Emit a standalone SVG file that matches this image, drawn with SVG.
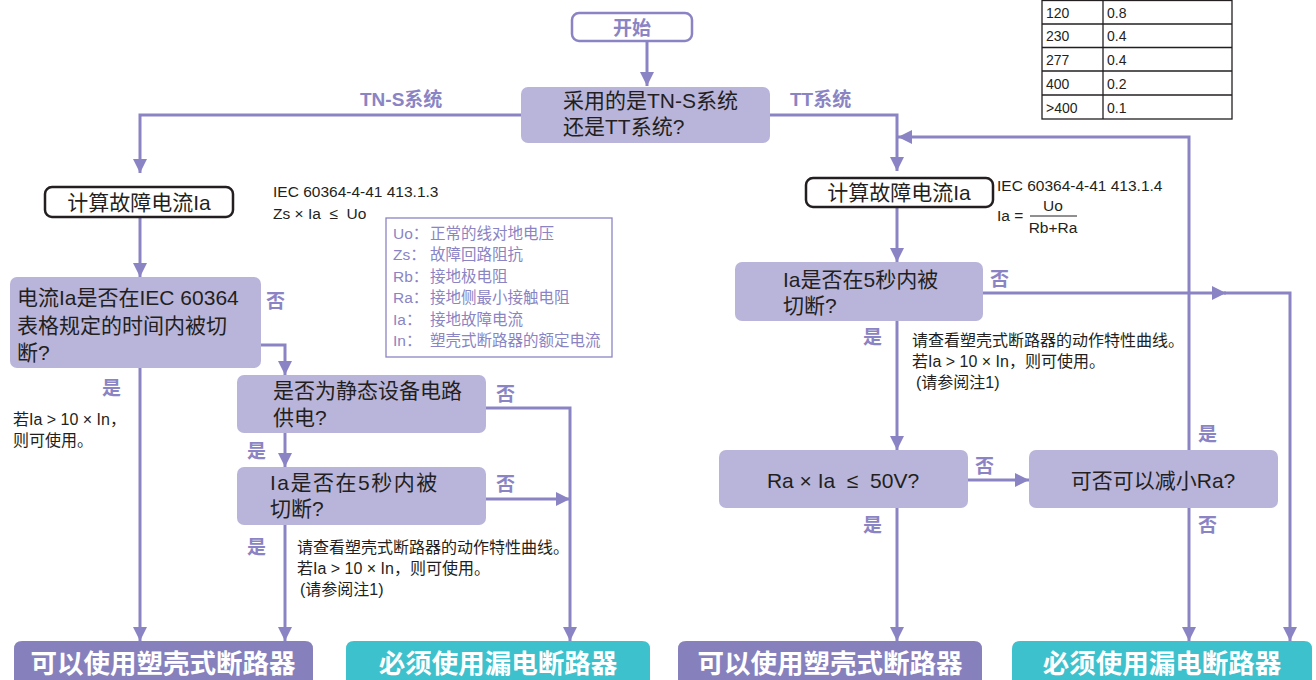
<svg xmlns="http://www.w3.org/2000/svg" width="1316" height="680" viewBox="0 0 1316 680">
<defs>
<marker id="ah" markerUnits="userSpaceOnUse" markerWidth="16" markerHeight="16" viewBox="0 0 16 16" refX="14" refY="8" orient="auto">
<path d="M0,1 L14,8 L0,15 Z" fill="#8a84c4"/>
</marker>
<style>
.ln{fill:none;stroke:#8a84c4;stroke-width:3}
.dec{fill:#b9b5da}
.dt{font-family:"Liberation Sans","Noto Sans CJK SC",sans-serif;font-size:21px;fill:#231f20}
.lb{font-family:"Liberation Sans","Noto Sans CJK SC",sans-serif;font-size:19px;font-weight:bold;fill:#8a84c4}
.sm{font-family:"Liberation Sans","Noto Sans CJK SC",sans-serif;font-size:15.5px;fill:#231f20}
.nt{font-family:"Liberation Sans","Noto Sans CJK SC",sans-serif;font-size:16px;fill:#231f20}
.lg{font-family:"Liberation Sans","Noto Sans CJK SC",sans-serif;font-size:15.5px;fill:#8a84c4}
.calc{fill:#fff;stroke:#231f20;stroke-width:2.5}
.ot{font-family:"Liberation Sans","Noto Sans CJK SC",sans-serif;font-size:26.5px;font-weight:bold;fill:#fff;text-anchor:middle}
.tb{font-family:"Liberation Sans",sans-serif;font-size:14px;fill:#231f20}
</style>
</defs>
<rect width="1316" height="680" fill="#fff"/>

<g id="connectors">
<path class="ln" d="M647 41 V86" marker-end="url(#ah)"/>
<path class="ln" d="M521 115 H140 V173" marker-end="url(#ah)"/>
<path class="ln" d="M770 115 H897 V171" marker-end="url(#ah)"/>
<path class="ln" d="M140 217 V277" marker-end="url(#ah)"/>
<path class="ln" d="M261 345 H285 V375" marker-end="url(#ah)"/>
<path class="ln" d="M140 368 V641" marker-end="url(#ah)"/>
<path class="ln" d="M486 408 H570 V641" marker-end="url(#ah)"/>
<path class="ln" d="M285 433 V467" marker-end="url(#ah)"/>
<path class="ln" d="M486 499 H570" marker-end="url(#ah)"/>
<path class="ln" d="M285 525 V641" marker-end="url(#ah)"/>
<path class="ln" d="M897 207 V262" marker-end="url(#ah)"/>
<path class="ln" d="M983 293 H1226" marker-end="url(#ah)"/>
<path class="ln" d="M1224 293 H1290 V641" marker-end="url(#ah)"/>
<path class="ln" d="M897 321 V450" marker-end="url(#ah)"/>
<path class="ln" d="M968 480 H1029" marker-end="url(#ah)"/>
<path class="ln" d="M897 508 V641" marker-end="url(#ah)"/>
<path class="ln" d="M1189 450 V137 H898" marker-end="url(#ah)"/>
<path class="ln" d="M1189 508 V641" marker-end="url(#ah)"/>
</g>

<g id="labels">
<text class="lb" x="360" y="106">TN-S系统</text>
<text class="lb" x="790" y="106">TT系统</text>
<text class="lb" x="266" y="308">否</text>
<text class="lb" x="102" y="395">是</text>
<text class="lb" x="496" y="401">否</text>
<text class="lb" x="247" y="458">是</text>
<text class="lb" x="496" y="491">否</text>
<text class="lb" x="247" y="554">是</text>
<text class="lb" x="990" y="286">否</text>
<text class="lb" x="863" y="344">是</text>
<text class="lb" x="975" y="473">否</text>
<text class="lb" x="1198" y="441">是</text>
<text class="lb" x="863" y="532">是</text>
<text class="lb" x="1198" y="532">否</text>
</g>

<g id="start">
<rect x="572" y="13" width="120" height="28" rx="7" fill="#fff" stroke="#8a84c4" stroke-width="2.5"/>
<text class="lb" x="632" y="35" text-anchor="middle" font-size="20">开始</text>
</g>

<g id="system">
<rect class="dec" x="521" y="87" width="249" height="56" rx="7"/>
<text class="dt" x="563" y="108" font-size="21.5">采用的是TN-S系统</text>
<text class="dt" x="563" y="134" font-size="21.5">还是TT系统?</text>
</g>

<g id="calc-left">
<rect class="calc" x="45" y="187" width="188" height="30" rx="7"/>
<text class="dt" x="139" y="210" text-anchor="middle">计算故障电流Ia</text>
</g>

<g id="formula-left">
<text class="sm" x="273" y="197">IEC 60364-4-41 413.1.3</text>
<text class="sm" x="273" y="219" xml:space="preserve">Zs × Ia  ≤  Uo</text>
</g>

<g id="legend">
<rect x="386" y="218" width="226" height="139" fill="none" stroke="#8a84c4" stroke-width="1.3"/>
<text class="lg" x="393" y="239">Uo：</text><text class="lg" x="430" y="239">正常的线对地电压</text>
<text class="lg" x="393" y="260">Zs：</text><text class="lg" x="430" y="260">故障回路阻抗</text>
<text class="lg" x="393" y="282">Rb：</text><text class="lg" x="430" y="282">接地极电阻</text>
<text class="lg" x="393" y="303">Ra：</text><text class="lg" x="430" y="303">接地侧最小接触电阻</text>
<text class="lg" x="393" y="325">Ia：</text><text class="lg" x="430" y="325">接地故障电流</text>
<text class="lg" x="393" y="346">In：</text><text class="lg" x="430" y="346">塑壳式断路器的额定电流</text>
</g>

<g id="q-iec-time">
<rect class="dec" x="10" y="277" width="251" height="91" rx="7"/>
<text class="dt" x="17" y="305" font-size="22">电流Ia是否在IEC 60364</text>
<text class="dt" x="17" y="333" font-size="22">表格规定的时间内被切</text>
<text class="dt" x="17" y="360" font-size="22">断?</text>
</g>

<g id="note-left">
<text class="nt" x="13" y="425">若Ia &gt; 10 × In，</text>
<text class="nt" x="13" y="446">则可使用。</text>
</g>

<g id="q-static">
<rect class="dec" x="237" y="375" width="249" height="58" rx="7"/>
<text class="dt" x="273" y="398">是否为静态设备电路</text>
<text class="dt" x="273" y="425">供电?</text>
</g>

<g id="q-5s-left">
<rect class="dec" x="237" y="467" width="249" height="58" rx="7"/>
<text class="dt" x="270" y="490" letter-spacing="1.5">Ia是否在5秒内被</text>
<text class="dt" x="270" y="516">切断?</text>
</g>

<g id="note-mid">
<text class="nt" x="297" y="553">请查看塑壳式断路器的动作特性曲线。</text>
<text class="nt" x="297" y="574">若Ia &gt; 10 × In，则可使用。</text>
<text class="nt" x="300" y="595">(请参阅注1)</text>
</g>

<g id="calc-right">
<rect class="calc" x="806" y="178" width="187" height="29" rx="7"/>
<text class="dt" x="899" y="200" text-anchor="middle">计算故障电流Ia</text>
</g>

<g id="formula-right">
<text class="sm" x="997" y="191">IEC 60364-4-41 413.1.4</text>
<text class="sm" x="997" y="221">Ia =</text>
<text class="sm" x="1053" y="211" text-anchor="middle">Uo</text>
<line x1="1030" y1="216" x2="1077" y2="216" stroke="#231f20" stroke-width="1"/>
<text class="sm" x="1053" y="233" text-anchor="middle">Rb+Ra</text>
</g>

<g id="table">
<g fill="none" stroke="#231f20" stroke-width="1.3">
<rect x="1042" y="0.5" width="190" height="118.5"/>
<line x1="1103" y1="0" x2="1103" y2="119"/>
<line x1="1042" y1="24" x2="1232" y2="24"/>
<line x1="1042" y1="47.5" x2="1232" y2="47.5"/>
<line x1="1042" y1="71" x2="1232" y2="71"/>
<line x1="1042" y1="95" x2="1232" y2="95"/>
</g>
<text class="tb" x="1046" y="18">120</text><text class="tb" x="1107" y="18">0.8</text>
<text class="tb" x="1046" y="41">230</text><text class="tb" x="1107" y="41">0.4</text>
<text class="tb" x="1046" y="65">277</text><text class="tb" x="1107" y="65">0.4</text>
<text class="tb" x="1046" y="89">400</text><text class="tb" x="1107" y="89">0.2</text>
<text class="tb" x="1046" y="113">&gt;400</text><text class="tb" x="1107" y="113">0.1</text>
</g>

<g id="q-5s-right">
<rect class="dec" x="735" y="262" width="248" height="59" rx="7"/>
<text class="dt" x="783" y="287">Ia是否在5秒内被</text>
<text class="dt" x="783" y="313">切断?</text>
</g>

<g id="note-right">
<text class="nt" x="912" y="346">请查看塑壳式断路器的动作特性曲线。</text>
<text class="nt" x="912" y="367">若Ia &gt; 10 × In，则可使用。</text>
<text class="nt" x="916" y="388">(请参阅注1)</text>
</g>

<g id="q-ra-50v">
<rect class="dec" x="719" y="450" width="249" height="58" rx="7"/>
<text class="dt" x="843" y="488" text-anchor="middle" xml:space="preserve">Ra × Ia  ≤  50V?</text>
</g>

<g id="q-reduce-ra">
<rect class="dec" x="1029" y="450" width="249" height="58" rx="7"/>
<text class="dt" x="1153" y="488" text-anchor="middle">可否可以减小Ra?</text>
</g>

<g id="out-mccb-left">
<path d="M14 690 V649 Q14 641 22 641 H305 Q313 641 313 649 V690 Z" fill="#8680bd"/>
<text class="ot" x="163" y="673">可以使用塑壳式断路器</text>
</g>
<g id="out-rcd-left">
<path d="M346 690 V649 Q346 641 354 641 H642 Q650 641 650 649 V690 Z" fill="#3dc1cd"/>
<text class="ot" x="498" y="673">必须使用漏电断路器</text>
</g>
<g id="out-mccb-right">
<path d="M678 690 V649 Q678 641 686 641 H974 Q982 641 982 649 V690 Z" fill="#8680bd"/>
<text class="ot" x="830" y="673">可以使用塑壳式断路器</text>
</g>
<g id="out-rcd-right">
<path d="M1012 690 V649 Q1012 641 1020 641 H1304 Q1312 641 1312 649 V690 Z" fill="#3dc1cd"/>
<text class="ot" x="1162" y="673">必须使用漏电断路器</text>
</g>
</svg>
